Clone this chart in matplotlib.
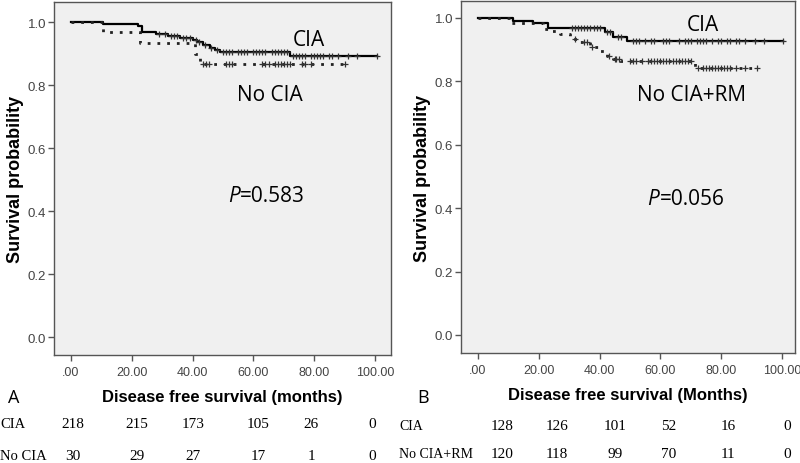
import numpy as np
import matplotlib
matplotlib.use("Agg")
import matplotlib.pyplot as plt

# ---------------- data ----------------
# Panel A
a_cia_t = [0, 10.5, 22, 23.3, 28, 32, 36, 40, 41.5, 43.5, 45.7, 47.5, 49, 72, 100.6]
a_cia_s = [1.0, 0.993, 0.988, 0.967, 0.962, 0.955, 0.948, 0.942, 0.936, 0.928, 0.918, 0.911, 0.905, 0.891, 0.891]
a_cia_cens = [29, 31, 33, 34, 35, 37, 38, 39, 41, 42, 44, 46, 48, 50, 51, 52, 53, 55, 56, 57, 58, 60, 61, 62, 63,
              64, 66, 67, 68, 69, 70, 71, 73, 74, 75, 76, 77, 79, 80, 81, 82, 83, 85, 86, 88, 91, 94, 100.6]
a_no_t = [0, 10.5, 22.7, 40.8, 42.4, 90]
a_no_s = [1.0, 0.967, 0.933, 0.9, 0.867, 0.867]
a_no_cens = [43.5, 44.5, 45.5, 51, 52, 53, 63, 64, 65, 67, 68, 69, 70, 71, 72, 76, 77, 79, 90]

# Panel B
b_cia_t = [0, 11.6, 18.1, 23, 41.8, 44.5, 48.9, 100.3]
b_cia_s = [1.0, 0.992, 0.984, 0.967, 0.955, 0.939, 0.926, 0.926]
b_cia_cens = [31, 32, 33, 34, 35, 36, 37, 38, 39, 40, 42.5, 43.5, 46, 47, 51, 52, 53, 55, 57, 58, 61, 62, 63, 66,
              68, 69, 70, 72, 73, 74, 75, 77, 79, 80, 82, 83, 85, 86, 88, 91, 94, 100.3]
b_no_t = [0, 11, 21.4, 24, 27, 30.3, 33.6, 36.8, 40, 42.3, 44.5, 46.7, 71.4, 91.7]
b_no_s = [1.0, 0.983, 0.965, 0.958, 0.95, 0.934, 0.923, 0.907, 0.897, 0.881, 0.87, 0.863, 0.841, 0.841]
b_no_cens = [32, 35, 36, 37.5, 43, 45, 45.5, 46.5, 50, 51, 52, 54, 56, 57, 58, 59, 60, 61, 62, 63, 64, 65, 66, 67,
             68, 69, 70, 72.5, 74, 75, 76, 77, 78, 79, 80, 81, 82, 83, 85, 88, 91.7]

x_ticks = [0, 20, 40, 60, 80, 100]
x_ticklabels = [".00", "20.00", "40.00", "60.00", "80.00", "100.00"]
y_ticks = [0.0, 0.2, 0.4, 0.6, 0.8, 1.0]
y_ticklabels = ["0.0", "0.2", "0.4", "0.6", "0.8", "1.0"]

a_rows = ["CIA", "No CIA"]
a_risk = [[218, 215, 173, 105, 26, 0], [30, 29, 27, 17, 1, 0]]
b_rows = ["CIA", "No CIA+RM"]
b_risk = [[128, 126, 101, 52, 16, 0], [120, 118, 99, 70, 11, 0]]

# ---------------- figure ----------------
W, H = 800, 464
fig = plt.figure(figsize=(W / 100, H / 100), dpi=100)
fig.patch.set_facecolor("white")

SANS = ["Open Sans", "DejaVu Sans"]
NARROW = ["Liberation Sans Narrow", "Liberation Sans", "DejaVu Sans"]
BOLD = ["Liberation Sans", "DejaVu Sans"]
SERIF = ["Liberation Serif", "DejaVu Serif"]
ANN = 15


def px_axes(l, t, r, b):
    return fig.add_axes([l / W, 1 - b / H, (r - l) / W, (b - t) / H])


def surv_at(ts, ss, c):
    idx = np.searchsorted(ts, c, side="right") - 1
    return np.asarray(ss)[idx]


def style(ax, xlim, ylim):
    ax.set_facecolor("#f0f0f0")
    ax.set_xlim(*xlim)
    ax.set_ylim(*ylim)
    for sp in ax.spines.values():
        sp.set_color("#555555")
        sp.set_linewidth(1.0)
    ax.set_xticks(x_ticks)
    ax.set_xticklabels(x_ticklabels, family=NARROW, fontsize=9, color="#444444")
    ax.set_yticks(y_ticks)
    ax.set_yticklabels(y_ticklabels, family=NARROW, fontsize=9.5, color="#444444")
    ax.tick_params(direction="out", length=4, width=1, color="#555555", pad=1.5)
    ax.tick_params(axis="x", pad=4)
    ax.set_ylabel("Survival probability", family=BOLD, fontweight="bold", fontsize=13, labelpad=3)


def draw_curve(ax, ts, ss, cens, solid):
    if solid:
        ax.step(ts, ss, where="post", color="black", lw=1.6)
    else:
        ax.step(ts, ss, where="post", color="#222222", lw=2.0, linestyle=(0, (1, 2.5)))
    cs = surv_at(ts, ss, cens)
    ax.plot(cens, cs, linestyle="none", marker="+", ms=4.5, mew=0.9, color="#333333")


# Panel A
axA = px_axes(54, 3, 391, 356)
style(axA, (-5.6, 105.3), (-0.057, 1.0635))
draw_curve(axA, a_cia_t, a_cia_s, a_cia_cens, True)
draw_curve(axA, a_no_t, a_no_s, a_no_cens, False)
axA.text(78.3, 0.946, "CIA", family=SANS, fontsize=ANN, ha="center", va="center")
axA.text(65.5, 0.771, "No CIA", family=SANS, fontsize=ANN, ha="center", va="center")
axA.text(55.6, 0.448, "P", family=SANS, fontsize=ANN, ha="right", va="center", style="italic")
axA.text(55.6, 0.448, "=0.583", family=SANS, fontsize=ANN, ha="left", va="center")
axA.set_xlabel("Disease free survival (months)", family=BOLD, fontweight="bold", fontsize=12, labelpad=8)

# Panel B
axB = px_axes(461, 2, 795, 354)
style(axB, (-5.6, 104.3), (-0.0568, 1.0536))
draw_curve(axB, b_cia_t, b_cia_s, b_cia_cens, True)
draw_curve(axB, b_no_t, b_no_s, b_no_cens, False)
axB.text(74, 0.978, "CIA", family=SANS, fontsize=ANN, ha="center", va="center")
axB.text(70.4, 0.76, "No CIA+RM", family=SANS, fontsize=ANN, ha="center", va="center")
axB.text(59.7, 0.432, "P", family=SANS, fontsize=ANN, ha="right", va="center", style="italic")
axB.text(59.7, 0.432, "=0.056", family=SANS, fontsize=ANN, ha="left", va="center")
axB.set_xlabel("Disease free survival (Months)", family=BOLD, fontweight="bold", fontsize=12, labelpad=8)

# panel letters
fig.text(14 / W, 1 - 398 / H, "A", family=SANS, fontsize=13, ha="center", va="center")
fig.text(423 / W, 1 - 398 / H, "B", family=SANS, fontsize=13, ha="center", va="center")

# at-risk tables
a_cols = [73, 137, 193, 258, 311, 372]
a_rowy = [425, 457]
for r, name in enumerate(a_rows):
    fig.text(0 / W, 1 - a_rowy[r] / H, name, family=SERIF, fontsize=10.5, ha="left", va="center")
    for c, v in enumerate(a_risk[r]):
        fig.text(a_cols[c] / W, 1 - a_rowy[r] / H, str(v), family=SERIF, fontsize=11, ha="center", va="center")

b_cols = [502, 557, 615, 669, 728, 787]
b_rowy = [427, 455]
for r, name in enumerate(b_rows):
    fig.text(399 / W, 1 - b_rowy[r] / H, name, family=SERIF, fontsize=10, ha="left", va="center")
    for c, v in enumerate(b_risk[r]):
        fig.text(b_cols[c] / W, 1 - b_rowy[r] / H, str(v), family=SERIF, fontsize=11, ha="center", va="center")

fig.savefig("out.png", dpi=100, facecolor="white")
